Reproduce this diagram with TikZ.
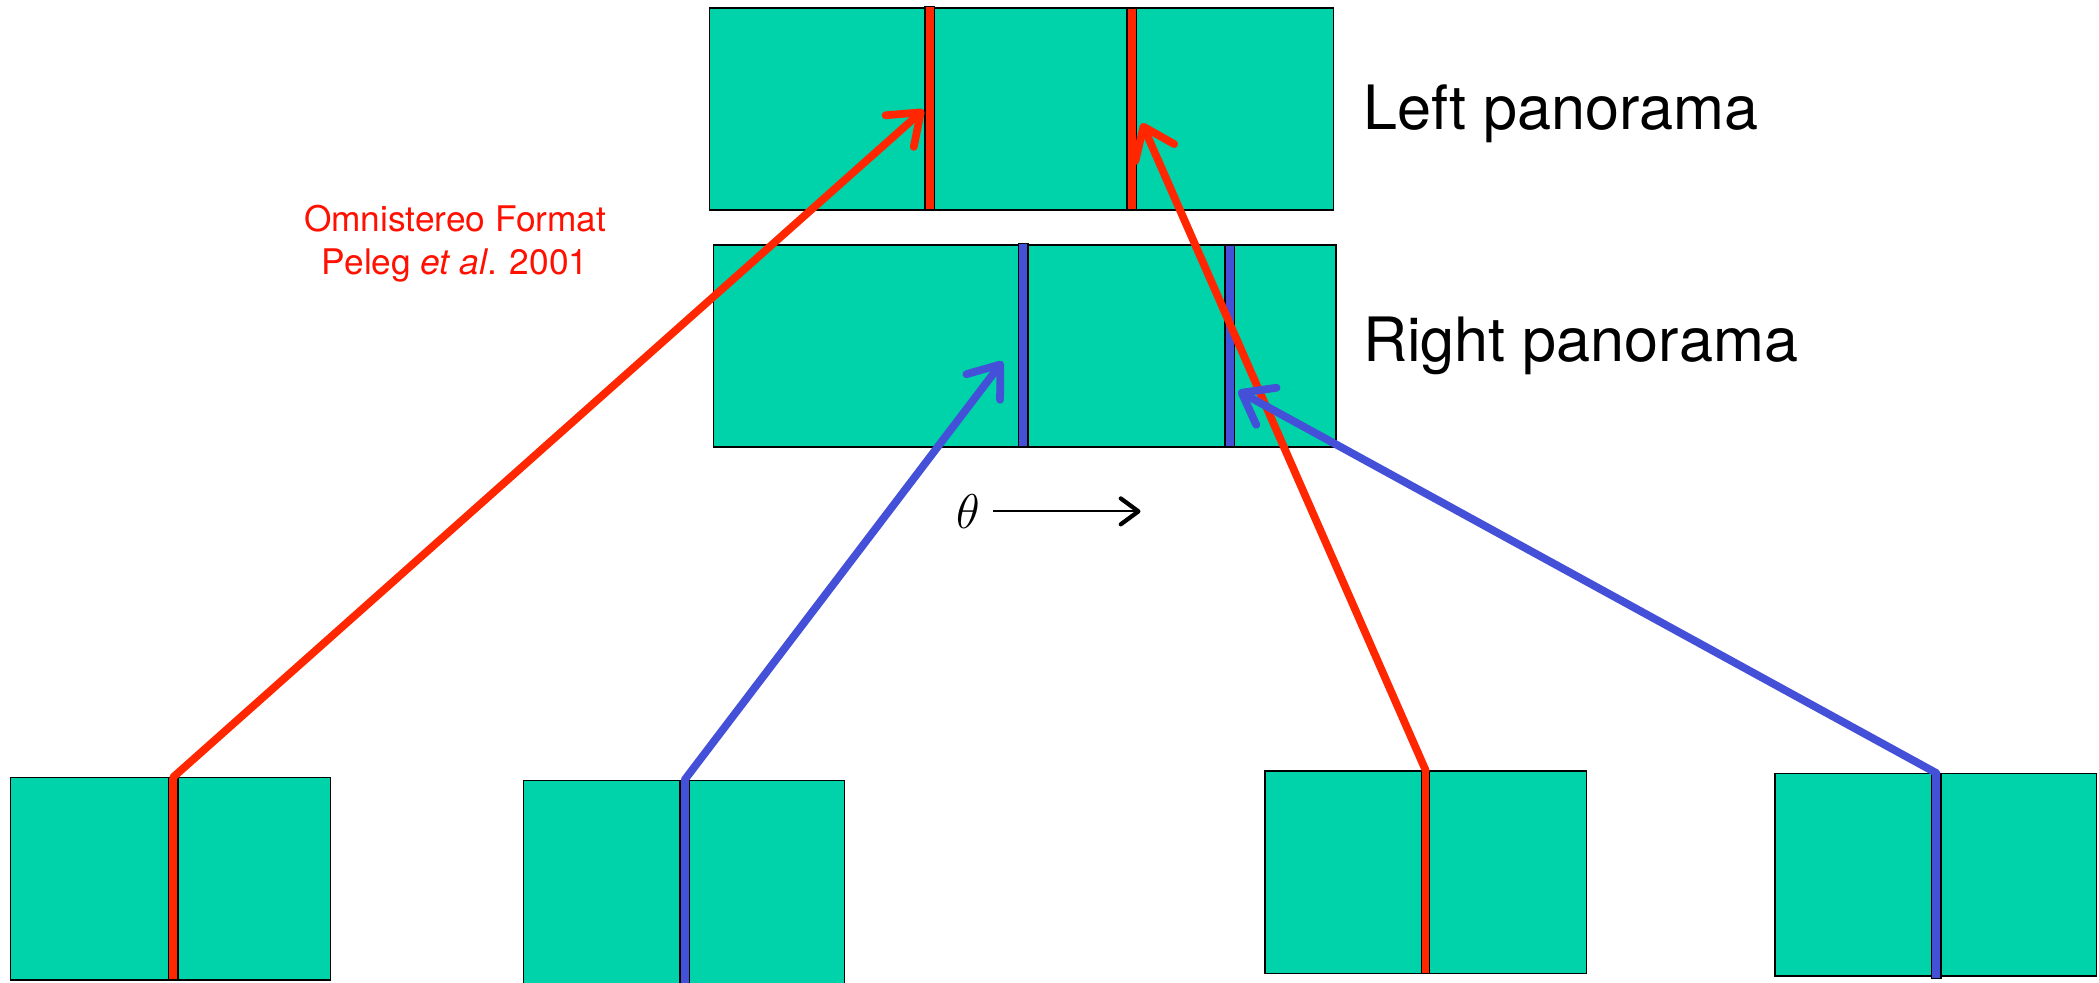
\documentclass[tikz,border=0pt]{standalone}
\usepackage{fontspec}
\setmainfont{TeX Gyre Heros}
\usetikzlibrary{arrows.meta,fit}
\definecolor{panelfill}{RGB}{0,210,170}
\definecolor{ared}{RGB}{255,38,0}
\definecolor{ablue}{RGB}{68,80,216}
\definecolor{tred}{RGB}{255,16,0}
\begin{document}
\begin{tikzpicture}[x=0.02cm,y=-0.02cm,
  panel/.style={draw=black,line width=0.6pt,fill=panelfill,inner sep=0pt},
  rstrip/.style={draw=black,line width=0.6pt,fill=ared,inner sep=0pt},
  bstrip/.style={draw=black,line width=0.6pt,fill=ablue,inner sep=0pt},
  conn/.style={line width=3.3pt,line cap=round,line join=round,
    -{Straight Barb[length=12pt,width=18pt,round]}},
  rconn/.style={conn,draw=ared},
  bconn/.style={conn,draw=ablue},
  biglabel/.style={anchor=base west,inner sep=0pt,font=\fontsize{26}{30}\selectfont},
  redlabel/.style={anchor=base,inner sep=0pt,text=tred,font=\fontsize{15}{18}\selectfont},
  tharrow/.style={line width=0.75pt,-{Straight Barb[length=7.5pt,width=11pt,line width=1.8pt,round]}}
]
\useasboundingbox (0,0) rectangle (1568,734);

% panoramas
\node[panel,fit={(530,6)(996,157)}] (leftpan) {};
\node[rstrip,fit={(691,5)(698,157)}] (lsA) {};
\node[rstrip,fit={(842,6)(849,157)}] (lsB) {};

\node[panel,fit={(533,183)(998,334)}] (rightpan) {};
\node[bstrip,fit={(761,182)(768,334)}] (rsC) {};
\node[bstrip,fit={(915,183)(922,334)}] (rsD) {};

% camera images
\node[panel,fit={(8,581)(247,732)}] (img1) {};
\node[rstrip,fit={(126,581)(133,732)}] (st1) {};
\node[panel,fit={(391,583)(631,736)}] (img2) {};
\node[bstrip,fit={(508,583)(515,736)}] (st2) {};
\node[panel,fit={(945,576)(1185,727)}] (img3) {};
\node[rstrip,fit={(1062,576)(1068,727)}] (st3) {};
\node[panel,fit={(1326,578)(1566,729)}] (img4) {};
\node[bstrip,fit={(1443,578)(1450,731)}] (st4) {};

% arrow tips
\coordinate (tA) at (690,82);
\coordinate (tB) at (853,92);
\coordinate (tC) at (749,270);
\coordinate (tD) at (925,292);

\draw[rconn] (st1.north) -- (tA);
\draw[rconn] (st3.north) -- (tB);
\draw[bconn] (st2.north) -- (tC);
\draw[bconn] (st4.north) -- (tD);

% labels
\node[biglabel] (lpl) at (1018,97) {Left panorama};
\node[biglabel] (rpl) at (1018,270) {Right panorama};
\node[redlabel] (om1) at (340,172.6) {Omnistereo Format};
\node[redlabel] (om2) at (340,205.4) {Peleg \textit{et al}. 2001};

% theta direction
\node[inner sep=0pt] (theta) at (723,382) {\fontsize{22}{22}\selectfont$\theta$};
\coordinate (thA) at (742,382);
\coordinate (thB) at (852,382);
\draw[tharrow] (thA) -- (thB);
\end{tikzpicture}
\end{document}
